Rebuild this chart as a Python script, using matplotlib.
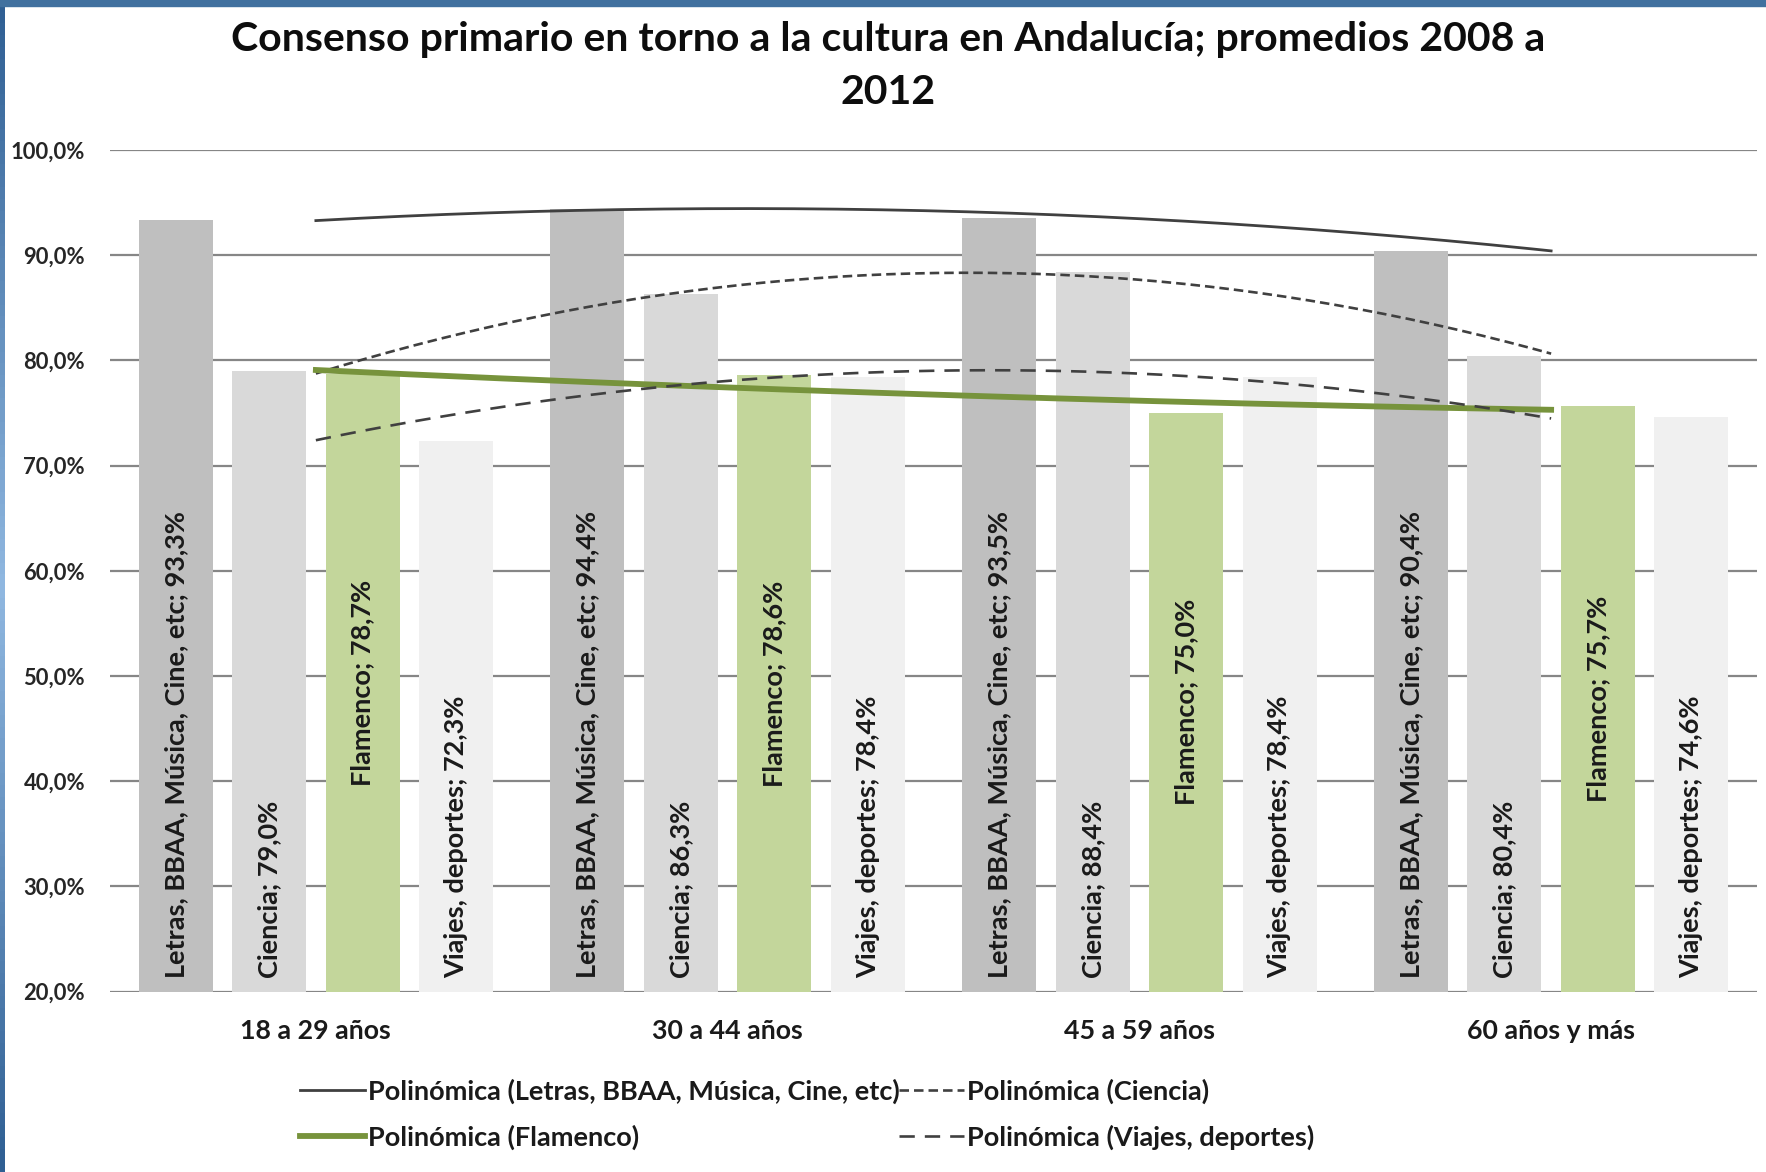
import matplotlib
matplotlib.use('Agg')
import matplotlib.pyplot as plt
import numpy as np
from matplotlib.patches import Rectangle
from matplotlib.lines import Line2D

plt.rcParams['font.family'] = ['Lato', 'DejaVu Sans']

# Data
groups = ['18 a 29 años', '30 a 44 años', '45 a 59 años', '60 años y más']
series = ['Letras, BBAA, Música, Cine, etc', 'Ciencia', 'Flamenco', 'Viajes, deportes']
letras = [93.3, 94.4, 93.5, 90.4]
ciencia = [79.0, 86.3, 88.4, 80.4]
flamenco = [78.7, 78.6, 75.0, 75.7]
viajes = [72.3, 78.4, 78.4, 74.6]
yticks = [20, 30, 40, 50, 60, 70, 80, 90, 100]

values = [letras, ciencia, flamenco, viajes]
bar_colors = ['#bfbfbf', '#d9d9d9', '#c3d69b', '#f0f0f0']
trend_styles = [
    dict(color='#404040', lw=2.0, ls='-'),
    dict(color='#404040', lw=1.9, ls=(0, (3.6, 1.9))),
    dict(color='#77933c', lw=4.2, ls='-'),
    dict(color='#404040', lw=1.9, ls=(0, (5.8, 3.8))),
]

fig = plt.figure(figsize=(17.66, 11.72), dpi=100)
ax = fig.add_axes([110 / 1766, 1 - 991.7 / 1172, 1647 / 1766, (991.7 - 150) / 1172])

x = np.arange(len(groups))
step = 0.227
width = 0.18
base = 20

for i, (name, vals, col) in enumerate(zip(series, values, bar_colors)):
    pos = x + (i - 1.5) * step
    heights = np.array(vals) - base
    ax.bar(pos, heights, width=width, bottom=base, color=col, zorder=2)
    for p, v in zip(pos, vals):
        txt = f'{name}; {v:.1f}%'.replace('.', ',')
        if name == 'Flamenco':
            ax.text(p, (base + v) / 2, txt, rotation=90, ha='center', va='center',
                    fontsize=19.5, fontweight='bold', color='#1a1a1a', zorder=4)
        else:
            ax.annotate(txt, (p, base), xytext=(0, 14), textcoords='offset pixels',
                        rotation=90, ha='center', va='bottom',
                        fontsize=19.5, fontweight='bold', color='#1a1a1a', zorder=4)

# polynomial (order 2) trendlines, like Excel
xs = np.linspace(0, 3, 200)
handles = []
for name, vals, st in zip(series, values, trend_styles):
    coef = np.polyfit(x, vals, 2)
    ax.plot(xs, np.polyval(coef, xs), zorder=3, **st)
    handles.append(Line2D([], [], **st, label=f'Polinómica ({name})'))

ax.set_xlim(-0.5, 3.5)
ax.set_ylim(20, 100)
ax.set_yticks(yticks)
ax.set_yticklabels([f'{t:.1f}%'.replace('.', ',') for t in yticks],
                   fontsize=15.8, fontweight='bold', color='#262626')
ax.set_xticks(x)
ax.set_xticklabels(groups, fontsize=19.3, fontweight='bold', color='#1a1a1a')
ax.tick_params(length=0)
ax.tick_params(axis='x', pad=20)
ax.tick_params(axis='y', pad=18)
ax.grid(axis='y', color='#868686', lw=1.6, zorder=1)
ax.set_axisbelow(True)
for s in ax.spines.values():
    s.set_visible(False)

fig.text(0.503, 1 - 40 / 1172, 'Consenso primario en torno a la cultura en Andalucía; promedios 2008 a',
         ha='center', va='center', fontsize=29.5, fontweight='bold', color='#0d0d0d')
fig.text(0.503, 1 - 92 / 1172, '2012',
         ha='center', va='center', fontsize=29.5, fontweight='bold', color='#0d0d0d')

order = [handles[0], handles[2], handles[1], handles[3]]
leg = fig.legend(handles=order, loc='center', bbox_to_anchor=(0.457, 1 - 1114 / 1172),
                 ncol=2, frameon=False, handlelength=2.4, handletextpad=0.1,
                 columnspacing=0.0, labelspacing=0.75,
                 prop=dict(size=19.5, weight='bold'))
for t in leg.get_texts():
    t.set_color('#1a1a1a')

# blue frame on the top and left edges
fig.add_artist(Rectangle((0, 1 - 6 / 1172), 1, 6 / 1172, transform=fig.transFigure,
                         color='#41719f', zorder=10))
grad = fig.add_axes([0, 0, 5 / 1766, 1])
g = np.concatenate([np.linspace(0, 1, 50), np.linspace(1, 0, 50)])[:, None]
grad.imshow(g, aspect='auto', cmap=matplotlib.colors.LinearSegmentedColormap.from_list(
    'edge', ['#2f5f93', '#8fb7e0']), extent=[0, 1, 0, 1])
grad.axis('off')

fig.savefig('out.png', dpi=100)
